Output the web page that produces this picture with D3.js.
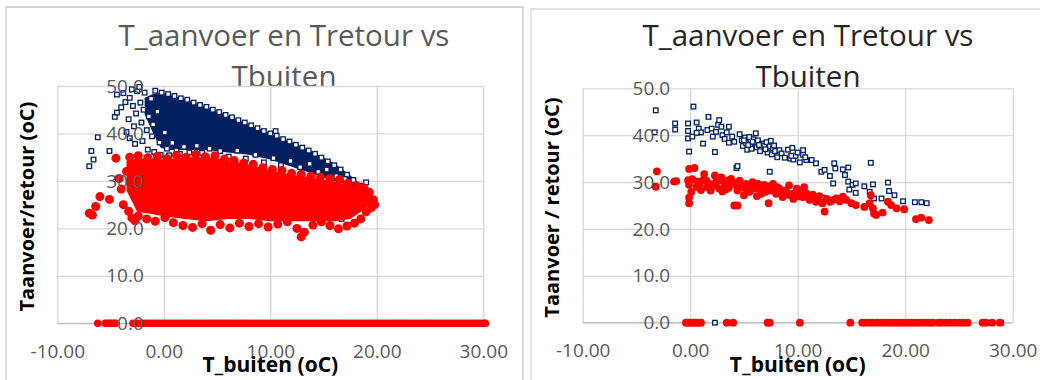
<!DOCTYPE html>
<html>
<head>
<meta charset="utf-8">
<script src="https://cdn.jsdelivr.net/npm/d3@7"></script>
<style>
  body { margin: 0; background: #fff; }
  text { font-family: "Open Sans", Lato, sans-serif; }
</style>
</head>
<body>
<svg id="chart" width="1040" height="380"></svg>
<script>
// ---- shared labels / ticks ----
const titleLines = ['T_aanvoer en Tretour vs', 'Tbuiten'];
const xTitle = 'T_buiten (oC)';
const yTitleLeft = 'Taanvoer/retour (oC)';
const yTitleRight = 'Taanvoer / retour (oC)';
const xTicks = [-10, 0, 10, 20, 30];
const yTicks = [0, 10, 20, 30, 40, 50];

// ---- left chart: dense cloud, edges as [x, low, high] ----
const aanvoerCoreL = [[-1.8, 44, 47.5], [-1.0, 40, 48.3], [-0.3, 37, 48.6], [0.5, 36.5, 48.2], [2, 36.5, 47.2],
  [4, 36.5, 45.6], [6, 36, 43.8], [8, 35.5, 41.9], [10, 34.5, 40.0], [12, 33, 38.1], [14, 31.5, 36.1],
  [16, 30, 33.7], [17.5, 29, 31.2], [18.5, 28, 29.2], [19.3, 26.5, 27.0]];
const retourCoreL = [[-3.5, 28, 34.2], [-2.5, 23.5, 34.7], [-1, 23, 34.8], [0, 22.5, 34.5], [2, 22, 35],
  [4, 21.5, 35], [6, 22, 34.4], [8, 22, 33.4], [10, 21.5, 32.2], [12, 21.5, 31.3], [14, 21.5, 30.6],
  [16, 21.5, 29.9], [17.5, 22, 29.0], [18.5, 23.5, 28.3], [19.3, 25, 27.2], [19.8, 25, 25.5]];

// loose points around the cloud (T_aanvoer, squares)
const aanvoerL = [
  [-7.0, 33.1], [-6.8, 36.3], [-6.6, 34.5], [-6.2, 39.2], [-5.1, 36.3], [-4.6, 43.5], [-4.4, 44.4], [-4.4, 48.2],
  [-4.0, 45.5], [-3.8, 48.5], [-3.6, 46.6], [-3.5, 40.3], [-3.3, 43.0], [-3.2, 39.0], [-3.2, 47.5], [-3.0, 49.3],
  [-2.9, 45.8], [-2.8, 41.5], [-2.7, 37.8], [-2.6, 44.2], [-2.5, 48.9], [-2.3, 49.8], [-2.2, 46.5], [-2.1, 42.3],
  [-2.0, 38.4], [-1.9, 45.0], [-1.8, 48.6], [-1.6, 40.7], [-1.5, 36.6], [-1.4, 43.6], [-1.2, 47.3], [-1.1, 39.4],
  [-1.0, 41.9], [-0.9, 36.1], [-0.8, 49.0], [-0.6, 44.6], [-0.4, 38.1], [-0.3, 35.5], [0.1, 40.2], [0.3, 36.8],
  [0.5, 35.4], [0.8, 38.0], [1.2, 36.4], [1.5, 35.7], [1.9, 37.2], [2.4, 36.0], [3.1, 37.4], [3.6, 35.9], [4.3, 36.8],
  [-0.2, 48.6], [0.4, 48.3], [1.0, 47.9], [1.6, 47.4], [2.2, 47.1], [2.8, 46.5], [3.4, 46.0], [4.0, 45.6],
  [4.6, 45.0], [5.2, 44.5], [5.8, 43.9], [6.4, 43.4], [7.0, 42.8], [7.6, 42.3], [8.2, 41.7], [8.8, 41.1],
  [9.4, 40.5], [10.0, 40.0], [10.5, 40.5], [10.6, 39.5], [11.2, 38.8], [11.8, 38.3], [12.4, 37.6], [13.0, 37.0],
  [13.6, 36.4], [14.2, 35.7], [14.8, 34.9], [15.4, 34.1], [16.0, 33.3], [16.6, 32.4], [17.2, 31.3], [17.8, 30.2],
  [18.4, 29.0], [18.7, 28.0], [19.0, 29.7], [19.3, 27.0], [19.6, 25.9], [19.0, 26.5], [18.2, 27.4],
  [5.3, 36.3], [6.1, 35.1], [6.9, 36.4], [7.7, 34.7], [8.6, 35.5], [9.4, 33.9], [10.3, 34.8], [11.0, 33.3],
  [11.9, 34.2], [12.8, 32.9], [13.7, 33.6], [14.5, 31.9], [15.3, 32.4], [16.2, 31.0], [17.0, 30.4],
  [11.5, 24.0], [12.6, 23.2], [13.4, 22.5], [14.2, 24.8], [15.5, 23.1], [16.7, 22.0], [17.8, 25.5], [18.6, 26.2],
  [9.8, 25.8], [12.0, 26.5]
];

// loose points around the cloud (T_retour, circles)
const retourL = [
  [-7.0, 23.2], [-6.7, 22.8], [-6.4, 24.6], [-6.0, 26.7], [-5.1, 26.1], [-4.5, 34.8], [-4.2, 30.5], [-4.0, 28.3],
  [-3.8, 25.0], [-3.5, 32.0], [-3.3, 23.6], [-3.0, 22.2], [-2.7, 21.6],
  [-3.2, 35.0], [-2.4, 35.3], [-1.5, 34.9], [-0.6, 35.2], [0.3, 34.7], [1.2, 35.4], [2.1, 35.0], [3.0, 35.6],
  [3.9, 35.1], [4.8, 35.3], [5.7, 34.6], [6.6, 34.3], [7.5, 33.8], [8.4, 33.5], [9.3, 32.8], [10.2, 32.4],
  [11.1, 32.2], [12.0, 31.6], [12.9, 31.4], [13.8, 31.0], [14.7, 30.8], [15.6, 30.5], [16.5, 30.3], [17.3, 29.5],
  [18.1, 29.0], [18.8, 28.5], [19.3, 27.6], [19.7, 26.0], [19.8, 25.0],
  [-2.4, 22.6], [-1.6, 22.0], [-0.8, 21.5], [0.1, 22.3], [0.9, 21.2], [1.8, 20.6], [2.7, 20.2], [3.6, 21.0],
  [4.4, 19.6], [5.3, 20.8], [6.2, 20.1], [7.1, 21.1], [8.0, 20.4], [8.9, 21.0], [9.8, 20.3], [10.7, 20.9],
  [11.6, 21.4], [12.5, 20.0], [12.9, 18.2], [13.2, 19.2], [14.0, 20.7], [14.8, 21.4], [15.6, 20.6], [16.4, 19.9],
  [17.2, 20.5], [17.9, 21.1], [18.5, 22.0], [19.0, 23.5], [19.5, 24.4]
];

// T_retour readings at 0 (x only), a near-continuous run from -3 to 30
const retourL0 = [-6.2, -5.5, -5.3, -5.1, -4.9, -4.7, -4.5, -2.9, -2.6, -2.3, -2.0, -1.7, -1.4, -1.1, -0.8,
  -0.5, -0.2, 0.1, 0.4, 0.7, 1.0, 1.3, 1.6, 1.9, 2.2, 2.5, 2.8, 3.1, 3.4, 3.7, 4.0, 4.3, 4.6, 4.9, 5.2,
  5.5, 5.8, 6.1, 6.4, 6.7, 7.0, 7.3, 7.6, 7.9, 8.2, 8.5, 8.8, 9.1, 9.4, 9.7, 10.0, 10.3, 10.6, 10.9,
  11.2, 11.5, 11.8, 12.1, 12.4, 12.7, 13.0, 13.3, 13.6, 13.9, 14.2, 14.5, 14.8, 15.1, 15.4, 15.7, 16.0,
  16.3, 16.6, 16.9, 17.2, 17.5, 17.8, 18.1, 18.4, 18.7, 19.0, 19.3, 19.6, 19.9, 20.2, 20.5, 20.8, 21.1,
  21.4, 21.7, 22.0, 22.3, 22.6, 22.9, 23.2, 23.5, 23.8, 24.1, 24.4, 24.7, 25.0, 25.3, 25.6, 25.9, 26.2,
  26.5, 26.8, 27.1, 27.4, 27.7, 28.0, 28.3, 28.6, 28.9, 29.2, 29.5, 29.8, 30.1, 30.2];

// ---- right chart ----
const aanvoerR = [
  [-3.2, 45.3], [-3.3, 40.6], [-1.4, 42.5], [-1.4, 41.2], [-0.2, 42.5], [-0.2, 40.9], [-0.2, 39.3], [-0.1, 36.5],
  [0.3, 46.1], [0.2, 39.7], [0.6, 42.7], [0.8, 41.4], [1.0, 40.6], [0.6, 40.5], [1.2, 38.2], [1.7, 43.9],
  [1.6, 41.1], [2.0, 41.4], [2.1, 39.7], [2.4, 40.7], [2.6, 42.2], [2.7, 43.2], [2.9, 41.8], [2.3, 36.4],
  [3.0, 40.0], [3.2, 39.2], [3.4, 40.6], [3.6, 41.8], [3.6, 38.4], [3.9, 39.7], [4.1, 38.6], [4.3, 33.0],
  [4.4, 33.4], [4.6, 40.2], [4.8, 38.9], [4.9, 37.7], [5.1, 39.5], [5.2, 38.3], [5.3, 36.9], [5.5, 39.6],
  [5.6, 38.0], [5.7, 37.1], [5.9, 39.1], [6.0, 38.4], [6.1, 40.4], [6.2, 37.4], [6.3, 38.9], [6.5, 36.6],
  [6.7, 38.2], [6.9, 37.8], [7.1, 38.5], [7.2, 36.3], [7.4, 37.6], [7.5, 38.8], [7.6, 35.9], [7.7, 37.2],
  [7.9, 36.6], [7.4, 32.2], [8.1, 35.3], [8.3, 36.8], [8.5, 36.1], [8.8, 35.2], [9.1, 36.9], [9.3, 35.0],
  [9.5, 37.3], [9.6, 34.8], [9.8, 35.6], [10.0, 36.3], [10.2, 34.2], [10.5, 36.8], [10.5, 35.8], [10.8, 34.7],
  [11.3, 34.7], [11.7, 34.0], [12.2, 32.2], [12.5, 32.6], [13.0, 31.3], [13.4, 34.0], [13.5, 32.9], [14.2, 32.7],
  [14.7, 33.1], [14.4, 31.5], [14.7, 30.1], [13.3, 29.7], [15.1, 29.4], [15.4, 29.7], [14.8, 28.4], [15.4, 27.7],
  [16.2, 29.1], [16.8, 34.1], [17.0, 29.5], [18.4, 29.9], [18.5, 28.1], [19.0, 27.2], [16.7, 27.9], [17.1, 26.5],
  [17.8, 26.5], [19.8, 25.9], [20.9, 25.7], [21.5, 25.7], [22.0, 25.5], [12.3, 26.7],
  [5.0, 38.9], [5.4, 37.9], [5.8, 38.6], [6.4, 37.9], [7.0, 37.0], [7.8, 37.8], [9.4, 35.6], [10.7, 35.3]
];
const retourR = [
  [-3.1, 32.3], [-3.2, 29.0], [-1.3, 30.2], [-1.5, 30.1], [-0.1, 32.8], [0.4, 33.0], [-0.2, 30.4], [-0.1, 29.4],
  [0.1, 27.9], [-0.1, 26.7], [-0.1, 25.5], [0.7, 30.1], [1.0, 28.3], [0.6, 29.0],
  [1.3, 31.7], [1.5, 30.3], [1.8, 29.6], [2.3, 31.4], [2.4, 30.0], [1.9, 28.2], [2.7, 28.6], [2.9, 31.0],
  [3.2, 29.6], [3.5, 30.3], [3.8, 30.7], [4.1, 25.0], [4.4, 25.0], [4.3, 29.3], [4.4, 28.2], [4.6, 30.3],
  [4.9, 28.9], [5.2, 29.6], [5.5, 27.9], [5.8, 30.0], [6.0, 28.6], [6.3, 29.6], [6.6, 27.5], [6.8, 28.2],
  [7.3, 25.5], [7.2, 28.9], [7.5, 28.2], [7.7, 29.6], [8.0, 27.5], [8.3, 28.6], [8.6, 26.8], [8.9, 28.2],
  [9.2, 29.3], [9.5, 27.5], [9.9, 28.6], [10.2, 27.9], [10.5, 26.8], [10.6, 28.9],
  [3.0, 28.0], [3.6, 28.8], [5.0, 27.2], [5.6, 28.7], [6.2, 27.0], [6.9, 29.4], [7.9, 28.5], [8.8, 27.3],
  [9.6, 26.4], [11.4, 27.3], [12.0, 27.0], [13.3, 26.2],
  [0.2, 30.6], [0.9, 29.6], [1.2, 30.4], [1.6, 28.9], [2.1, 29.2], [2.6, 30.3], [3.3, 28.4], [4.0, 29.9],
  [4.7, 29.0], [5.3, 28.3], [5.9, 29.1], [6.5, 28.9], [7.0, 27.9], [7.4, 29.1], [8.1, 28.9], [8.6, 27.9],
  [9.3, 27.2], [9.9, 27.0], [11.2, 26.8], [12.7, 26.4], [13.9, 25.9],
  [10.5, 28.3], [10.8, 27.6], [10.3, 26.9], [11.1, 26.2], [11.7, 25.8], [12.3, 25.5], [12.5, 23.7], [13.0, 25.8],
  [13.6, 26.5], [14.2, 26.9], [14.5, 26.2], [15.0, 25.5], [15.4, 25.1], [16.2, 24.7], [16.7, 25.5], [16.8, 27.2],
  [17.0, 24.4], [17.1, 23.3], [17.3, 23.0], [17.9, 23.5], [18.4, 25.8], [18.7, 25.1], [19.2, 24.4], [19.9, 24.2],
  [21.0, 22.1], [21.5, 22.4], [22.2, 21.9]
];
const aanvoerR0 = [2.3, 7.3, 17.6, 27.8, 28.9];
const retourR0 = [-0.4, -0.2, 0.0, 0.2, 0.4, 0.6, 0.8, 1.0, 3.4, 4.0, 7.2, 7.4, 10.2, 14.9, 16.0, 16.3, 16.7,
  17.0, 17.4, 17.8, 18.1, 18.4, 18.7, 19.0, 19.3, 19.6, 19.9, 20.2, 20.5, 20.8, 21.1, 21.4, 21.7, 22.0, 22.3,
  22.6, 23.1, 23.4, 23.8, 24.2, 24.6, 25.0, 25.4, 25.8, 27.2, 27.5, 28.1, 28.8];

const NAVY = '#002060';
const RED = '#ff0000';

const svg = d3.select('#chart');
const fmtX = v => d3.format('.2f')(v).replace('\u2212', '-');
const fmtY = v => d3.format('.1f')(v).replace('\u2212', '-');

function drawPanel(cfg) {
  const x = d3.scaleLinear().domain([-10, 30]).range([cfg.x0, cfg.x1]);
  const y = d3.scaleLinear().domain([0, 50]).range([cfg.y0, cfg.y1]);
  const g = svg.append('g');

  // chart frame
  g.append('path')
    .attr('d', `M${cfg.fx0},380V${cfg.fy}H${cfg.fx1}` + (cfg.fx1 < 1040 ? 'V380' : ''))
    .attr('fill', 'none')
    .attr('stroke', cfg.frameColor)
    .attr('stroke-width', 1.3);

  // title (plot area is drawn over its lower edge)
  const title = g.append('text')
    .attr('text-anchor', 'middle')
    .attr('fill', cfg.titleColor)
    .style('font-size', '29.5px');
  titleLines.forEach((t, i) => {
    title.append('tspan').attr('x', cfg.titleCx).attr('y', 46 + i * 41).text(t);
  });

  g.append('rect')
    .attr('x', cfg.x0).attr('y', cfg.y1)
    .attr('width', cfg.x1 - cfg.x0).attr('height', cfg.y0 - cfg.y1)
    .attr('fill', '#fff');

  // gridlines
  g.append('g')
    .attr('transform', `translate(0,${cfg.y0})`)
    .call(d3.axisBottom(x).tickValues(xTicks).tickSize(-(cfg.y0 - cfg.y1)).tickFormat(''))
    .call(s => {
      s.select('.domain').remove();
      s.selectAll('line').attr('stroke', '#d9d9d9').attr('stroke-width', 1.3);
    });
  g.append('g')
    .attr('transform', `translate(${cfg.x0},0)`)
    .call(d3.axisLeft(y).tickValues(yTicks).tickSize(-(cfg.x1 - cfg.x0)).tickFormat(''))
    .call(s => {
      s.select('.domain').remove();
      s.selectAll('line').attr('stroke', '#d9d9d9').attr('stroke-width', 1.3);
    });

  // horizontal axis line at y = 0
  g.append('line')
    .attr('x1', cfg.x0).attr('x2', cfg.x1)
    .attr('y1', y(0)).attr('y2', y(0))
    .attr('stroke', '#bfbfbf').attr('stroke-width', 1.3);

  const area = d3.area()
    .x(d => x(d[0]))
    .y0(d => y(d[1]))
    .y1(d => y(d[2]));

  const squares = (data, s) => {
    g.append('g').selectAll('rect')
      .data(data)
      .enter()
      .append('rect')
      .attr('x', d => x(d[0]) - s / 2)
      .attr('y', d => y(d[1]) - s / 2)
      .attr('width', s)
      .attr('height', s)
      .attr('fill', '#fff')
      .attr('stroke', NAVY)
      .attr('stroke-width', 1.3);
  };
  const circles = (data, r) => {
    g.append('g').selectAll('circle')
      .data(data)
      .enter()
      .append('circle')
      .attr('cx', d => x(d[0]))
      .attr('cy', d => y(d[1]))
      .attr('r', r)
      .attr('fill', RED);
  };

  // series 1: T_aanvoer
  if (cfg.aanvoerCore) {
    g.append('path').datum(cfg.aanvoerCore).attr('d', area).attr('fill', NAVY);
  }
  squares(cfg.aanvoer, cfg.sq);
  squares(cfg.aanvoer0.map(v => [v, 0]), cfg.sq);

  // series 2: T_retour
  if (cfg.retourCore) {
    g.append('path').datum(cfg.retourCore).attr('d', area).attr('fill', RED);
  }
  circles(cfg.retour, cfg.r);
  circles(cfg.retour0.map(v => [v, 0]), cfg.r0);

  // tick labels (on top of markers)
  g.append('g')
    .attr('transform', `translate(${x(0)},0)`)
    .call(d3.axisLeft(y).tickValues(yTicks).tickSize(0).tickPadding(20).tickFormat(fmtY))
    .call(s => {
      s.select('.domain').remove();
      s.selectAll('text').attr('fill', '#595959').style('font-size', '19px').style('font-family', '"Open Sans", sans-serif');
    });
  g.append('g')
    .attr('transform', `translate(0,${y(0)})`)
    .call(d3.axisBottom(x).tickValues(xTicks).tickSize(0).tickPadding(21).tickFormat(fmtX))
    .call(s => {
      s.select('.domain').remove();
      s.selectAll('text').attr('fill', '#595959').style('font-size', '19px').style('font-family', '"Open Sans", sans-serif');
    });

  // axis titles
  g.append('text')
    .attr('x', (cfg.x0 + cfg.x1) / 2)
    .attr('y', 372)
    .attr('text-anchor', 'middle')
    .style('font-size', '21px')
    .style('font-weight', 'bold')
    .attr('fill', '#000')
    .text(xTitle);
  g.append('text')
    .attr('transform', `translate(${cfg.yTitleX},${(cfg.y0 + cfg.y1) / 2 + 2}) rotate(-90)`)
    .attr('text-anchor', 'middle')
    .style('font-size', '20px')
    .style('font-weight', 'bold')
    .attr('fill', '#000')
    .text(cfg.yTitle);
}

drawPanel({
  x0: 57.3, x1: 483.3, y0: 323.3, y1: 86,
  fx0: 6, fy: 7, fx1: 523, frameColor: '#c8c8c8',
  titleCx: 284, titleColor: '#595959',
  yTitle: yTitleLeft, yTitleX: 34,
  aanvoerCore: aanvoerCoreL, retourCore: retourCoreL,
  aanvoer: aanvoerL, aanvoer0: [], retour: retourL, retour0: retourL0,
  sq: 4.6, r: 4.5, r0: 3.8
});

drawPanel({
  x0: 582.7, x1: 1012.7, y0: 322.7, y1: 88.3,
  fx0: 531, fy: 9, fx1: 1040, frameColor: '#d9d9d9',
  titleCx: 808, titleColor: '#262626',
  yTitle: yTitleRight, yTitleX: 559,
  aanvoer: aanvoerR, aanvoer0: aanvoerR0, retour: retourR, retour0: retourR0,
  sq: 4.6, r: 3.9, r0: 3.9
});
</script>
</body>
</html>
